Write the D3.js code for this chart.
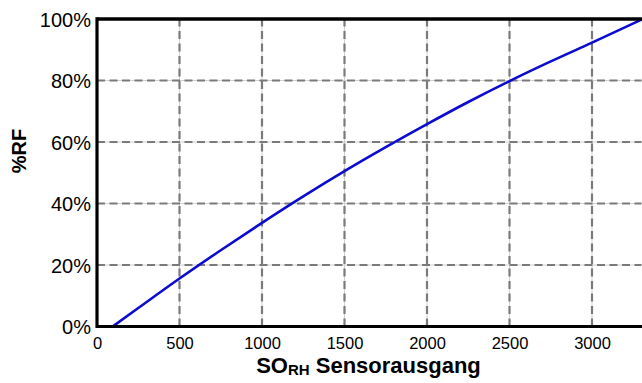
<!DOCTYPE html>
<html><head><meta charset="utf-8">
<script src="https://cdn.jsdelivr.net/npm/d3@7"></script>
<style>body{margin:0;background:#fff}svg{display:block}</style>
</head><body>
<script>
// Data
const soValues = [95, 250, 500, 750, 1000, 1250, 1500, 1750, 2000, 2250, 2500, 2750, 3000, 3300];
const rhValues = [0, 6.0, 15.6, 24.8, 33.7, 42.3, 50.5, 58.3, 65.8, 73.0, 79.8, 86.2, 92.3, 99.8];
const xTicks = [0, 500, 1000, 1500, 2000, 2500, 3000];
const yTicks = [0, 20, 40, 60, 80, 100];
const yTickLabels = ["0%", "20%", "40%", "60%", "80%", "100%"];

const W = 642, H = 383;
const m = {left: 97, right: 0.5, top: 19, bottom: 56.5};
const svg = d3.select("body").append("svg").attr("width", W).attr("height", H);
const x = d3.scaleLinear().domain([0, 3300]).range([m.left, W - m.right]);
const y = d3.scaleLinear().domain([0, 100]).range([H - m.bottom, m.top]);
const font = "'Liberation Sans', Arial, sans-serif";

// grid
const g = svg.append("g");
const vx = xTicks.filter(d => d > 0);
const hy = yTicks.filter(d => d > 0 && d < 100);
[["#d0d0d0", 1, null], ["#7a7a7a", 2.2, "8,4.5"]].forEach(([c, w, da]) => {
  g.selectAll(null).data(vx).enter().append("line")
    .attr("x1", d => x(d)).attr("x2", d => x(d)).attr("y1", y(0)).attr("y2", y(100))
    .attr("stroke", c).attr("stroke-width", w).attr("stroke-dasharray", da);
  g.selectAll(null).data(hy).enter().append("line")
    .attr("x1", x(0)).attr("x2", x(3300)).attr("y1", d => y(d)).attr("y2", d => y(d))
    .attr("stroke", c).attr("stroke-width", w).attr("stroke-dasharray", da);
});

// curve
const line = d3.line().x((d, i) => x(soValues[i])).y(d => y(d)).curve(d3.curveMonotoneX);
svg.append("path").datum(rhValues).attr("d", line)
  .attr("fill", "none").attr("stroke", "#0c0cd0").attr("stroke-width", 2.6);

// frame
svg.append("line").attr("x1", x(0)).attr("x2", W).attr("y1", y(100)).attr("y2", y(100))
  .attr("stroke", "#000").attr("stroke-width", 3.5);
svg.append("line").attr("x1", x(0)).attr("x2", W).attr("y1", y(0)).attr("y2", y(0))
  .attr("stroke", "#000").attr("stroke-width", 3);
svg.append("line").attr("x1", x(0)).attr("x2", x(0)).attr("y1", y(100) - 1.7).attr("y2", y(0) + 1.5)
  .attr("stroke", "#000").attr("stroke-width", 3.2);

// axes (labels only)
const xAxis = d3.axisBottom(x).tickValues(xTicks).tickSize(0).tickPadding(0).tickFormat(d3.format("d"));
const xa = svg.append("g").attr("transform", `translate(0,${y(0)})`).call(xAxis);
xa.select(".domain").remove();
xa.selectAll("text").attr("dy", null).attr("y", 22.5)
  .attr("font-family", font).attr("font-size", 16.5).attr("fill", "#000");

const yAxis = d3.axisLeft(y).tickValues(yTicks).tickSize(0).tickPadding(0)
  .tickFormat((d, i) => yTickLabels[i]);
const ya = svg.append("g").attr("transform", `translate(${x(0) - 6},0)`).call(yAxis);
ya.select(".domain").remove();
ya.selectAll("text").attr("dy", "0.36em").attr("x", 0)
  .attr("font-family", font).attr("font-size", 20).attr("fill", "#000");

// axis titles
const xt = svg.append("text").attr("x", 368.5).attr("y", 373)
  .attr("text-anchor", "middle").attr("font-family", font).attr("font-weight", "bold")
  .attr("font-size", 22).attr("fill", "#000");
xt.append("tspan").text("SO");
xt.append("tspan").attr("font-size", 15).attr("dy", 2).text("RH");
xt.append("tspan").attr("dy", -2).text(" Sensorausgang");

svg.append("text").attr("transform", "translate(26,151) rotate(-90)")
  .attr("text-anchor", "middle").attr("font-family", font).attr("font-weight", "bold")
  .attr("font-size", 20).attr("fill", "#000").text("%RF");
</script>
</body></html>
